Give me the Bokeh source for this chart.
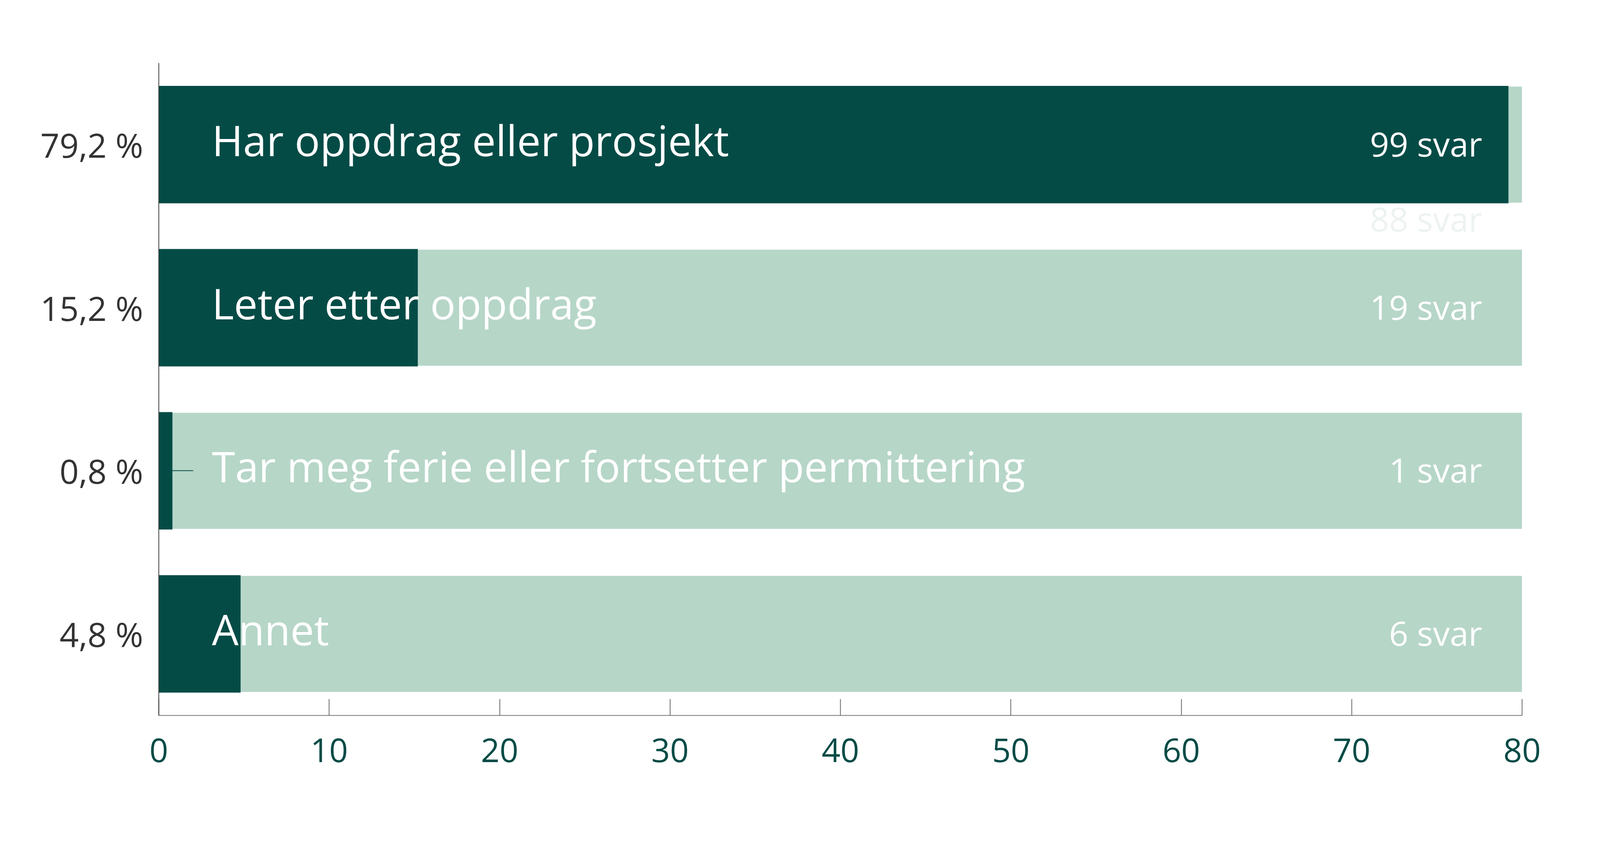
from bokeh.plotting import figure
from bokeh.models import Range1d, FactorRange, FixedTicker
from bokeh.core.properties import value
from bokeh.embed import file_html
from bokeh.resources import INLINE

# ---- data ----
categories = ["Har oppdrag eller prosjekt", "Leter etter oppdrag",
              "Tar meg ferie eller fortsetter permittering", "Annet"]
percent = [79.2, 15.2, 0.8, 4.8]
answers = [99, 19, 1, 6]
x_max = 80
x_ticks = [0, 10, 20, 30, 40, 50, 60, 70, 80]
ghost_label = "88 svar"

pct_labels = [f"{v:.1f} %".replace(".", ",") for v in percent]
svar_labels = [f"{n} svar" for n in answers]

DARK = "#044b46"
LIGHT = "#b6d6c8"
FONT = "Open Sans"

p = figure(width=4118, height=2156,
           y_range=FactorRange(factors=pct_labels[::-1]),
           x_range=Range1d(0, x_max),
           output_backend="svg", toolbar_location=None,
           min_border_left=406, min_border_right=222,
           min_border_top=161, min_border_bottom=324)
p.outline_line_color = None
p.xgrid.visible = False
p.ygrid.visible = False
p.background_fill_color = "white"
p.border_fill_color = "white"

# background (full-width) bars and value bars
p.hbar(y=pct_labels, left=0, right=[x_max] * len(categories), height=0.711,
       fill_color=LIGHT, line_color=None)
p.hbar(y=pct_labels, left=0, right=percent, height=0.72,
       fill_color=DARK, line_color=None)

# category names inside bars
p.text(x=[0] * len(categories), y=pct_labels, text=categories,
       x_offset=136, y_offset=-12, text_align="left", text_baseline="alphabetic",
       text_font=value(FONT), text_font_size="108px", text_color="white")

# answer counts at right
p.text(x=[x_max] * len(categories), y=pct_labels, text=svar_labels,
       x_offset=-102, y_offset=-3, text_align="right", text_baseline="alphabetic",
       text_font=value(FONT), text_font_size="86px", text_color="white")

# faint leftover label
p.text(x=[x_max], y=[pct_labels[0]], text=[ghost_label],
       x_offset=-102, y_offset=189, text_align="right", text_baseline="alphabetic",
       text_font=value(FONT), text_font_size="86px", text_color="#edf3f0")

# x axis
xa = p.xaxis[0]
xa.ticker = FixedTicker(ticks=x_ticks)
xa.major_tick_in = 42
xa.major_tick_out = 0
xa.minor_tick_line_color = None
xa.axis_line_color = "#777777"
xa.axis_line_width = 2
xa.major_tick_line_color = "#666666"
xa.major_tick_line_width = 2
xa.major_label_standoff = 58
xa.major_label_text_font = FONT
xa.major_label_text_font_size = "84px"
xa.major_label_text_color = DARK

# y axis
ya = p.yaxis[0]
ya.major_tick_in = 88
ya.major_tick_out = 0
ya.major_tick_line_color = DARK
ya.major_tick_line_width = 2
ya.axis_line_color = "#3a3a3a"
ya.axis_line_width = 2
ya.major_label_standoff = 40
ya.major_label_text_font = FONT
ya.major_label_text_font_size = "86px"
ya.major_label_text_color = "#333333"

open("out.html", "w").write(file_html(p, INLINE))
